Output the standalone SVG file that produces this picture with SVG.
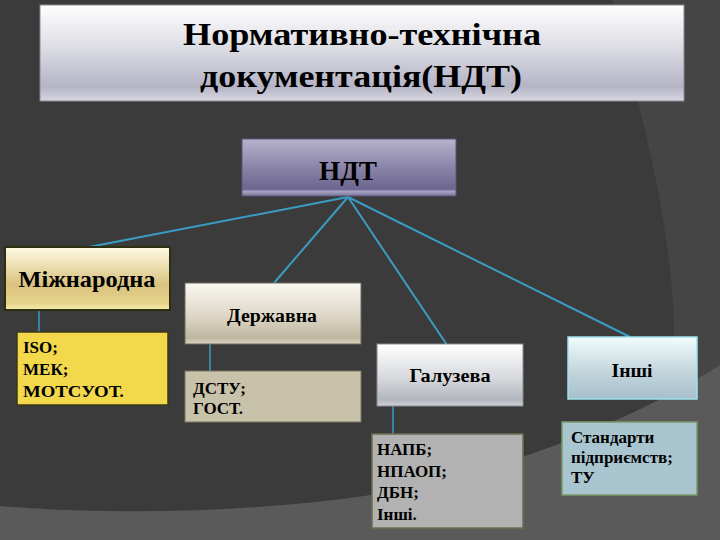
<svg xmlns="http://www.w3.org/2000/svg" width="720" height="540" viewBox="0 0 720 540">
<defs>
<linearGradient id="gTitle" x1="0" y1="0" x2="0" y2="1">
<stop offset="0" stop-color="#ffffff"/><stop offset="0.45" stop-color="#dcdce4"/><stop offset="0.85" stop-color="#b4b4c6"/><stop offset="1" stop-color="#d8d8e2"/>
</linearGradient>
<linearGradient id="gNdt" x1="0" y1="0" x2="0" y2="1">
<stop offset="0" stop-color="#b8b2ce"/><stop offset="0.5" stop-color="#8a84a8"/><stop offset="0.88" stop-color="#6c6690"/><stop offset="0.92" stop-color="#a8a2c4"/><stop offset="1" stop-color="#7a7498"/>
</linearGradient>
<linearGradient id="gInt" x1="0" y1="0" x2="0" y2="1">
<stop offset="0" stop-color="#fffbe4"/><stop offset="0.6" stop-color="#d9c27e"/><stop offset="0.9" stop-color="#e6d48c"/><stop offset="1" stop-color="#f6eeb0"/>
</linearGradient>
<linearGradient id="gState" x1="0" y1="0" x2="0" y2="1">
<stop offset="0" stop-color="#faf8f2"/><stop offset="0.55" stop-color="#ddd6c6"/><stop offset="0.9" stop-color="#bfb7a0"/><stop offset="1" stop-color="#d8d2c0"/>
</linearGradient>
<linearGradient id="gBranch" x1="0" y1="0" x2="0" y2="1">
<stop offset="0" stop-color="#ffffff"/><stop offset="0.55" stop-color="#d6d8dc"/><stop offset="0.9" stop-color="#b2b6be"/><stop offset="1" stop-color="#d0d2d8"/>
</linearGradient>
<linearGradient id="gOther" x1="0" y1="0" x2="0" y2="1">
<stop offset="0" stop-color="#f2fcfc"/><stop offset="0.55" stop-color="#c4d6dc"/><stop offset="1" stop-color="#a6bfcb"/>
</linearGradient>
</defs>
<style>
.t{font-family:"Liberation Serif","Times New Roman",serif;font-weight:bold;fill:#000}
.c{stroke:#3a9cc2;stroke-width:2;fill:none}
.v{stroke:#3a9cc2;stroke-width:1.5;fill:none}
</style>
<rect width="720" height="540" fill="#3b3b3b"/>
<path d="M612,0 C640,110 672,220 674,330 L676,420 L720,420 L720,0 Z" fill="#454545"/>
<path d="M0,506 C120,516 280,512 400,490 C520,466 640,416 720,365 L720,540 L0,540 Z" fill="#5a5a5a"/>

<g id="title">
<rect x="40" y="5" width="644" height="96" fill="url(#gTitle)" stroke="#8a8a96" stroke-width="1"/>
<text class="t" x="362" y="45" font-size="32" text-anchor="middle" textLength="358" lengthAdjust="spacingAndGlyphs">Нормативно-технічна</text>
<text class="t" x="361" y="87" font-size="32" text-anchor="middle" textLength="322" lengthAdjust="spacingAndGlyphs">документація(НДТ)</text>
</g>

<g id="connectors">
<line class="c" x1="348" y1="197" x2="89" y2="247"/>
<line class="c" x1="348" y1="197" x2="274" y2="283"/>
<line class="c" x1="348" y1="197" x2="447" y2="345"/>
<line class="c" x1="348" y1="197" x2="630" y2="337"/>
<line class="v" x1="39" y1="310" x2="39" y2="333"/>
<line class="v" x1="210" y1="344" x2="210" y2="372"/>
<line class="v" x1="393" y1="406" x2="393" y2="434"/>
<line x1="596" y1="466" x2="596" y2="489" stroke="#5ab4cc" stroke-width="1"/>
</g>

<g id="ndt">
<rect x="242" y="139" width="214" height="57" fill="url(#gNdt)" stroke="#5a5678" stroke-width="1"/>
<text class="t" x="348" y="180" font-size="28" text-anchor="middle" textLength="58" lengthAdjust="spacingAndGlyphs">НДТ</text>
</g>

<g id="international">
<rect x="5" y="247" width="165" height="63" fill="url(#gInt)" stroke="#2e2e10" stroke-width="2"/>
<text class="t" x="87" y="287" font-size="23" text-anchor="middle" textLength="137" lengthAdjust="spacingAndGlyphs">Міжнародна</text>
</g>

<g id="international-list">
<rect x="17" y="332" width="151" height="73" fill="#f3d84c" stroke="#3a3a18" stroke-width="1.5"/>
<text class="t" x="23" y="353" font-size="17">ISO;</text>
<text class="t" x="23" y="375" font-size="17">МЕК;</text>
<text class="t" x="23" y="397" font-size="17" textLength="101" lengthAdjust="spacingAndGlyphs">МОТСУОТ.</text>
</g>

<g id="state">
<rect x="185" y="283" width="176" height="61" fill="url(#gState)" stroke="#6e6a5a" stroke-width="1"/>
<text class="t" x="272" y="322" font-size="18" text-anchor="middle" textLength="90" lengthAdjust="spacingAndGlyphs">Державна</text>
</g>

<g id="state-list">
<rect x="185" y="371" width="176" height="51" fill="#c9c2ab" stroke="#7a7660" stroke-width="1"/>
<text class="t" x="193" y="394" font-size="17">ДСТУ;</text>
<text class="t" x="193" y="414" font-size="17">ГОСТ.</text>
</g>

<g id="branch">
<rect x="377" y="344" width="146" height="62" fill="url(#gBranch)" stroke="#8a8c94" stroke-width="1"/>
<text class="t" x="450" y="382" font-size="18" text-anchor="middle" textLength="81" lengthAdjust="spacingAndGlyphs">Галузева</text>
</g>

<g id="branch-list">
<rect x="372" y="434" width="151" height="94" fill="#b2b2b2" stroke="#6e6e50" stroke-width="1.5"/>
<text class="t" x="377" y="455" font-size="17">НАПБ;</text>
<text class="t" x="377" y="477" font-size="17">НПАОП;</text>
<text class="t" x="377" y="498" font-size="17">ДБН;</text>
<text class="t" x="377" y="520" font-size="17">Інші.</text>
</g>

<g id="other">
<rect x="568" y="337" width="129" height="62" fill="url(#gOther)" stroke="#9fe2ea" stroke-width="1.5"/>
<text class="t" x="632" y="377" font-size="18" text-anchor="middle" textLength="41" lengthAdjust="spacingAndGlyphs">Інші</text>
</g>

<g id="other-list">
<rect x="562" y="422" width="135" height="73" fill="#a9c5cf" stroke="#7a9a6a" stroke-width="1.5"/>
<text class="t" x="571" y="443" font-size="17">Стандарти</text>
<text class="t" x="571" y="463" font-size="17">підприємств;</text>
<text class="t" x="571" y="483" font-size="17">ТУ</text>
</g>
</svg>
